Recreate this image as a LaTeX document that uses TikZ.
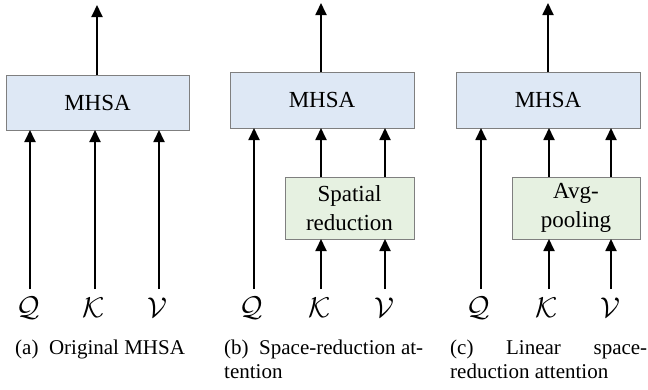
\documentclass[tikz,border=0pt]{standalone}
\usepackage{fontspec}
\setmainfont{Liberation Serif}
\usetikzlibrary{arrows.meta}

\definecolor{mhsafill}{HTML}{DEE8F5}
\definecolor{redfill}{HTML}{E6F1E1}
\definecolor{boxline}{HTML}{7F7F7F}

% calligraphic input symbol, enlarged
\newcommand{\inputsym}[1]{\scalebox{1.15}{$\mathcal{#1}$}}

\begin{document}
\begin{tikzpicture}[x=1pt,y=-1pt,
  flow/.style={line width=1.8pt,-{Triangle[width=11pt,length=12pt]}},
  attbox/.style={draw=boxline,line width=0.9pt,fill=mhsafill},
  redbox/.style={draw=boxline,line width=0.9pt,fill=redfill},
  boxtext/.style={font=\fontsize{23}{29}\selectfont,align=center},
  inlabel/.style={font=\fontsize{24}{26}\selectfont},
  caption/.style={font=\fontsize{21}{24}\selectfont,anchor=base west,inner sep=0pt}]
\useasboundingbox (0,0) rectangle (648,389);

% ---------------- (a) original MHSA ----------------
\draw[attbox] (6,75) rectangle (189,130);
\node[boxtext] (amhsa) at (97.5,102.5) {MHSA};
\draw[flow] (97,75) -- (97,5);
\node[inlabel] (aq) at (28,308) {\inputsym{Q}};
\node[inlabel] (ak) at (94,308) {\inputsym{K}};
\node[inlabel] (av) at (157,308) {\inputsym{V}};
\draw[flow] (30,289) -- (30,130);
\draw[flow] (95,289) -- (95,130);
\draw[flow] (159,289) -- (159,130);
\node[caption] (capa) at (15,354) {(a)\enspace Original MHSA};

% ---------------- (b) space-reduction attention ----------------
\draw[attbox] (230,72) rectangle (414,128);
\node[boxtext] (bmhsa) at (322,100) {MHSA};
\draw[flow] (321,72) -- (321,3);
\draw[redbox] (285,177) rectangle (414,239);
\node[boxtext] (bsr) at (349.5,208) {Spatial\\reduction};
\node[inlabel] (bq) at (251,308) {\inputsym{Q}};
\node[inlabel] (bk) at (320,308) {\inputsym{K}};
\node[inlabel] (bv) at (384,308) {\inputsym{V}};
\draw[flow] (254,289) -- (254,128);
\draw[flow] (321,289) -- (321,239);
\draw[flow] (385,289) -- (385,239);
\draw[flow] (321,177) -- (321,128);
\draw[flow] (385,177) -- (385,128);
\node[caption] (capb1) at (224,354) {\hbox to 199pt{(b)\enspace Space-reduction\hfill at-}};
\node[caption] (capb2) at (224,378) {tention};

% ---------------- (c) linear space-reduction attention ----------------
\draw[attbox] (456,72) rectangle (640,128);
\node[boxtext] (cmhsa) at (548,100) {MHSA};
\draw[flow] (548,72) -- (548,3);
\draw[redbox] (512,177) rectangle (640,239);
\node[boxtext] (cap) at (576,208) {Avg-\\pooling};
\node[inlabel] (cq) at (478,308) {\inputsym{Q}};
\node[inlabel] (ck) at (547,308) {\inputsym{K}};
\node[inlabel] (cv) at (610,308) {\inputsym{V}};
\draw[flow] (481,289) -- (481,128);
\draw[flow] (549,289) -- (549,239);
\draw[flow] (611,289) -- (611,239);
\draw[flow] (549,177) -- (549,128);
\draw[flow] (611,177) -- (611,128);
\node[caption] (capc1) at (450,354) {\hbox to 197pt{(c)\hfill Linear\hfill space-}};
\node[caption] (capc2) at (450,378) {reduction attention};
\end{tikzpicture}
\end{document}
